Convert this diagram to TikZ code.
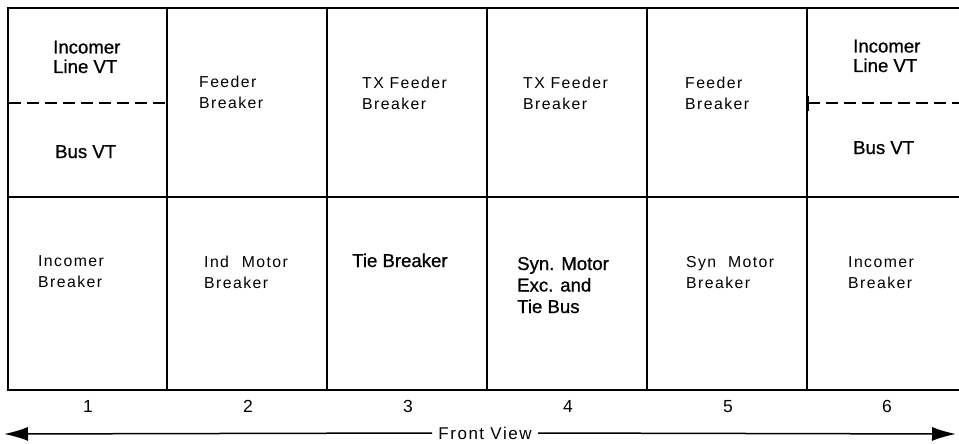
\documentclass[tikz,border=0pt]{standalone}
\usepackage{fontspec}
\setmainfont{Liberation Sans}
\newfontfamily\lightfont[LetterSpace=9]{Liberation Sans}
\newfontfamily\darkfont[FakeBold=0.8]{Liberation Sans}
\usetikzlibrary{arrows.meta}
\begin{document}
\begin{tikzpicture}[x=1pt,y=-1pt,
  frame/.style={line width=2pt},
  darklbl/.style={anchor=base west, inner sep=0pt, align=left, font=\darkfont\fontsize{18.6}{19.5}\selectfont},
  lightlbl/.style={anchor=base west, inner sep=0pt, align=left, font=\lightfont\fontsize{15.8}{21}\selectfont},
  numlbl/.style={anchor=base, inner sep=0pt, font=\fontsize{17.5}{18}\selectfont},
  vtsep/.style={line width=2pt, dash pattern=on 12pt off 6pt},
  viewarrow/.style={line width=1.5pt, -{Latex[length=24pt,width=14pt]}},
  ]
\useasboundingbox (0,0) rectangle (959,444);
% frame
\draw[frame] (959,8) -- (8,8) -- (8,390);
\draw[line width=2.5pt] (7,390) -- (959,390);
\draw[frame] (8,197) -- (959,197);
\foreach \x in {167,327,487,647,807} \draw[frame] (\x,8) -- (\x,390);
% VT separators
\draw[vtsep] (9,103) -- (167,103);
\draw[vtsep] (808,103) -- (959,103);
\draw[line width=3pt] (807,96) -- (807,111);
% top row labels (anchored at the baseline of the last line)
\node[darklbl] (c1a) at (53,73) {Incomer\\Line VT};
\node[darklbl] (c1b) at (55,158) {Bus VT};
\node[lightlbl] (c2t) at (199,109) {Feeder\\Breaker};
\node[lightlbl] (c3t) at (362,110) {TX Feeder\\Breaker};
\node[lightlbl] (c4t) at (523,110) {TX Feeder\\Breaker};
\node[lightlbl] (c5t) at (685,110) {Feeder\\Breaker};
\node[darklbl] (c6a) at (853,72) {Incomer\\Line VT};
\node[darklbl] (c6b) at (853,154) {Bus VT};
% bottom row labels
\node[lightlbl] (c1l) at (38,287) {Incomer\\Breaker};
\node[lightlbl] (c2l) at (204,288) {Ind\hspace{7pt} Motor\\Breaker};
\node[darklbl] (c3l) at (352,267) {Tie Breaker};
\node[darklbl, font=\darkfont\fontsize{18.6}{21.5}\selectfont] (c4l) at (517,313) {Syn. Motor\\Exc. and\\Tie Bus};
\node[lightlbl] (c5l) at (686,288) {Syn\hspace{6pt} Motor\\Breaker};
\node[lightlbl] (c6l) at (848,288) {Incomer\\Breaker};
% cubicle numbers
\foreach \n/\x in {1/88,2/248,3/408,4/568,5/728,6/887}
  \node[numlbl] (n\n) at (\x,412) {\n};
% front view arrow
\coordinate (fvL) at (4,434);
\coordinate (fvR) at (956,434);
\node[inner xsep=6pt, inner ysep=0pt, font=\lightfont\fontsize{17}{18}\selectfont] (fv) at (485,433) {Front View};
\draw[viewarrow] (fv.west) -- (fvL);
\draw[viewarrow] (fv.east) -- (fvR);
\end{tikzpicture}
\end{document}
